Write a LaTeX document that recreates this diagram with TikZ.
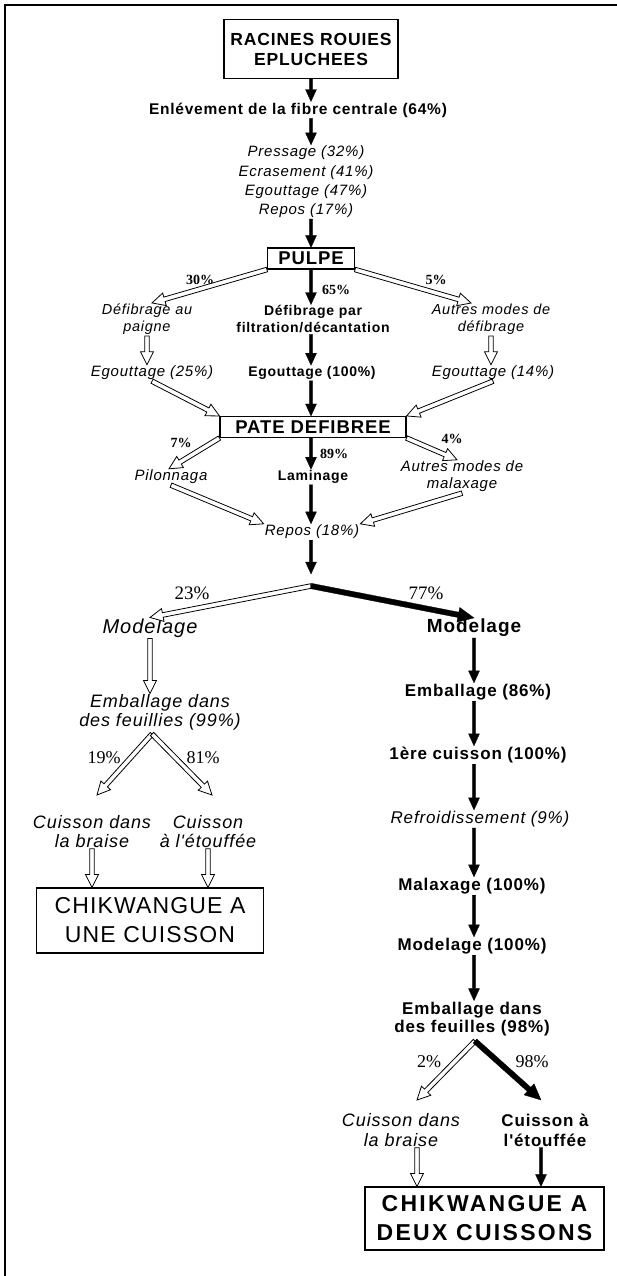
\documentclass[tikz,border=0pt]{standalone}
\usepackage{fontspec}
\usetikzlibrary{calc}
\newfontfamily\sfn[LetterSpace=5]{Liberation Sans}
\newfontfamily\srf{Liberation Serif}
\newcommand{\fsz}[2]{\fontsize{#1}{#2}\selectfont}
\tikzset{
  aw/.store in=\aaw, ahw/.store in=\aahw, ahl/.store in=\aahl,
  arrowshape/.style={to path={
    ($(\tikztostart)!\aaw!90:(\tikztotarget)$)
    -- ($(\tikztotarget)!\aahl!(\tikztostart) + (\tikztostart)!\aaw!90:(\tikztotarget) - (\tikztostart)$)
    -- ($(\tikztotarget)!\aahl!(\tikztostart) + (\tikztostart)!\aahw!90:(\tikztotarget) - (\tikztostart)$)
    -- (\tikztotarget)
    -- ($(\tikztotarget)!\aahl!(\tikztostart) + (\tikztostart)!\aahw!-90:(\tikztotarget) - (\tikztostart)$)
    -- ($(\tikztotarget)!\aahl!(\tikztostart) + (\tikztostart)!\aaw!-90:(\tikztotarget) - (\tikztostart)$)
    -- ($(\tikztostart)!\aaw!-90:(\tikztotarget)$)
    -- cycle}},
  blk/.style={aw=1.7pt, ahw=5.5pt, ahl=12pt, arrowshape, fill=black, draw=black, line width=0.3pt},
  thk/.style={blk, aw=2.7pt, ahw=7.5pt, ahl=16pt},
  hol/.style={aw=2.3pt, ahw=6.5pt, ahl=13pt, arrowshape, fill=white, draw=black, line width=0.8pt},
  bx/.style={draw, line width=1.1pt, inner sep=0pt, align=center},
  tbs/.style={font=\sfn\bfseries\fsz{14}{17}, align=center, inner sep=1pt},
  tbl/.style={font=\sfn\bfseries\fsz{17}{19}, align=center, inner sep=1pt},
  tis/.style={font=\sfn\itshape\fsz{15}{17}, align=center, inner sep=1pt},
  tim/.style={font=\sfn\itshape\fsz{18}{19}, align=center, inner sep=1pt},
  til/.style={font=\sfn\itshape\fsz{20}{22}, align=center, inner sep=1pt},
  pcb/.style={font=\srf\bfseries\fsz{14}{14}, inner sep=0pt},
  pcl/.style={font=\srf\fsz{19}{19}, inner sep=0pt}
}
\begin{document}
\begin{tikzpicture}[x=1pt,y=-1pt]
\useasboundingbox (0,0) rectangle (617,1276);
\draw[line width=1.3pt] (5,1276) -- (5,5) -- (617,5);

% nodes
\node[bx, font=\sfn\bfseries\fsz{17.5}{20}, minimum width=174, minimum height=59] (r) at (311,49) {RACINES ROUIES\\EPLUCHEES};
\node[tbs, font=\sfn\bfseries\fsz{15.5}{18}] (enl) at (298,110) {Enlévement de la fibre centrale (64\%)};
\node[tis, font=\sfn\itshape\fsz{15}{19.3}] (prs) at (306,182) {Pressage (32\%)\\Ecrasement (41\%)\\Egouttage (47\%)\\Repos (17\%)};
\node[bx, font=\sfn\bfseries\fsz{18.5}{20}, minimum width=87, minimum height=21] (pulpe) at (311,258.5) {PULPE};
\node[tis, font=\sfn\itshape\fsz{14.5}{17}] (defa) at (147,319.5) {Défibrage au\\paigne};
\node[tbs] (defp) at (313,319.5) {Défibrage par\\filtration/décantation};
\node[tis, font=\sfn\itshape\fsz{14.5}{17}] (autd) at (491,319.5) {Autres modes de\\défibrage};
\node[tis] (ega) at (152,373) {Egouttage (25\%)};
\node[tbs] (egc) at (312,373) {Egouttage (100\%)};
\node[tis] (egr) at (493,373) {Egouttage (14\%)};
\node[bx, font=\sfn\bfseries\fsz{18.5}{20}, minimum width=186, minimum height=21] (pate) at (313,427) {PATE DEFIBREE};
\node[tis] (pil) at (171,477) {Pilonnaga};
\node[tbs] (lam) at (313,477) {Laminage};
\node[tis] (aum) at (462,476.5) {Autres modes de\\malaxage};
\node[tis] (rep) at (312,532) {Repos (18\%)};
\coordinate (spt) at (311,574);
\coordinate (sp) at (311,586);
\node[til] (mdl) at (150,628) {Modelage};
\node[tbl, font=\sfn\bfseries\fsz{19}{20}] (mdr) at (474,628) {Modelage};
\node[tim] (emb1) at (160,712.5) {Emballage dans\\des feuillies (99\%)};
\coordinate (ap1) at (152,734);
\coordinate (t19) at (97,795);
\coordinate (t81) at (212,795);
\node[tim] (cbl) at (92,831.5) {Cuisson dans\\la braise};
\node[tim] (cet) at (208,831.5) {Cuisson\\à l'étouffée};
\node[bx, font=\sfn\fsz{23}{29}, minimum width=227, minimum height=65] (box1) at (150,920.5) {CHIKWANGUE A\\UNE CUISSON};
\node[tbl] (e86) at (478,692) {Emballage (86\%)};
\node[tbl] (c1) at (478,755) {1ère cuisson (100\%)};
\node[tim, font=\sfn\itshape\fsz{17}{19}] (refr) at (480,819) {Refroidissement (9\%)};
\node[tbl] (mal) at (472,886) {Malaxage (100\%)};
\node[tbl] (mod) at (472,946) {Modelage (100\%)};
\node[tbl, font=\sfn\bfseries\fsz{17}{18.5}] (emb2) at (472,1019) {Emballage dans\\des feuilles (98\%)};
\coordinate (ap2) at (475,1041);
\coordinate (t2) at (417,1100);
\coordinate (t98) at (541,1100);
\node[tim, font=\sfn\itshape\fsz{18}{20}] (cbr) at (401,1130) {Cuisson dans\\la braise};
\node[tbl, font=\sfn\bfseries\fsz{17}{20}] (cer) at (545,1130) {Cuisson à\\l'étouffée};
\node[bx, font=\sfn\bfseries\fsz{23}{29}\addfontfeature{LetterSpace=10}, minimum width=239, minimum height=63] (box2) at (484.5,1218.5) {CHIKWANGUE A\\DEUX CUISSONS};

% percentage labels
\node[pcb] (p30) at (200,280) {30\%};
\node[pcb] (p65) at (336,290) {65\%};
\node[pcb] (p5) at (436,280) {5\%};
\node[pcb] (p7) at (181,443) {7\%};
\node[pcb] (p89) at (334,454) {89\%};
\node[pcb] (p4) at (452,439) {4\%};
\node[pcl] (p23) at (192,593) {23\%};
\node[pcl] (p77) at (426,593) {77\%};
\node[pcl, font=\srf\fsz{18}{18}] (p19) at (104,758) {19\%};
\node[pcl, font=\srf\fsz{18}{18}] (p81) at (203,758) {81\%};
\node[pcl, font=\srf\fsz{18}{18}] (p2) at (429,1062) {2\%};
\node[pcl, font=\srf\fsz{18}{18}] (p98) at (532,1062) {98\%};

% black arrows
\draw[blk] (r.south) to (r.south |- enl.north);
\draw[blk] (enl.south -| r.south) to (r.south |- prs.north);
\draw[blk] (prs.south -| r.south) to (pulpe.north);
\draw[blk] (pulpe.south) to (pulpe.south |- defp.north);
\draw[blk] (defp.south -| pulpe.south) to (pulpe.south |- egc.north);
\draw[blk] (egc.south -| pulpe.south) to (pulpe.south |- pate.north);
\draw[blk] (pate.south -| pulpe.south) to (pulpe.south |- lam.north);
\draw[blk] (lam.south -| pulpe.south) to (pulpe.south |- rep.north);
\draw[blk] (rep.south -| pulpe.south) to (spt);

% hollow arrows
\coordinate (t30) at ($(defa.north)+(5,0)$);
\coordinate (t5) at ($(autd.north)+(-20,0)$);
\draw[hol] (pulpe.south west) to (t30);
\draw[hol] (pulpe.south east) to (t5);
\draw[hol] (defa.south) to (defa.south |- ega.north);
\draw[hol] (autd.south) to (autd.south |- egr.north);
\draw[hol] (ega.south) to (pate.north west);
\draw[hol] (egr.south) to (pate.north east);
\coordinate (t7) at ($(pil.north)+(-2,0)$);
\coordinate (t4) at ($(aum.north)+(-5,0)$);
\draw[hol] (pate.south west) to (t7);
\draw[hol] (pate.south east) to (t4);
\draw[hol] (pil.south) to (rep.north west);
\draw[hol] (aum.south) to (rep.north east);

\draw[hol] (sp) to (mdl.north);
\draw[thk] (sp) to (mdr.north);

\draw[hol] (mdl.south) to (mdl.south |- emb1.north);
\draw[hol] (ap1) to (t19);
\draw[hol] (ap1) to (t81);
\draw[hol] (cbl.south) to (cbl.south |- box1.north);
\draw[hol] (cet.south) to (cet.south |- box1.north);

\draw[blk] (mdr.south) to (mdr.south |- e86.north);
\draw[blk] (e86.south -| mdr.south) to (mdr.south |- c1.north);
\draw[blk] (c1.south -| mdr.south) to (mdr.south |- refr.north);
\draw[blk] (refr.south -| mdr.south) to (mdr.south |- mal.north);
\draw[blk] (mal.south -| mdr.south) to (mdr.south |- mod.north);
\draw[blk] (mod.south -| mdr.south) to (mdr.south |- emb2.north);

\draw[hol] (ap2) to (t2);
\draw[thk] (ap2) to (t98);
\draw[hol] (t2 |- cbr.south) to (t2 |- box2.north);
\draw[blk] (cer.south -| t98) to (t98 |- box2.north);
\end{tikzpicture}
\end{document}
